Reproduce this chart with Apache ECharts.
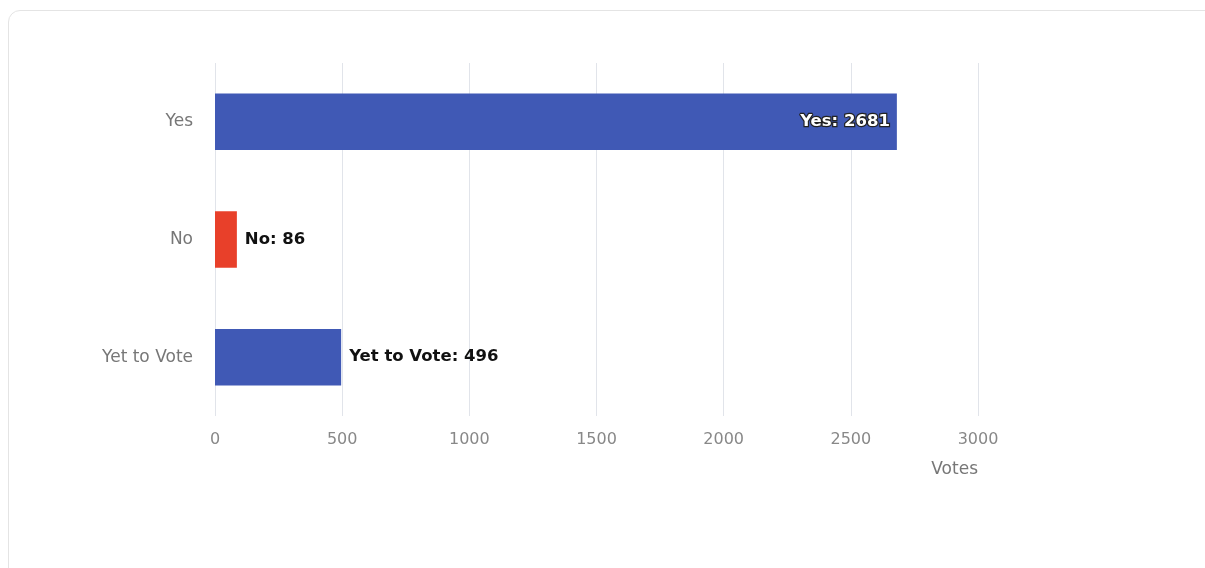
<!DOCTYPE html>
<html><head><meta charset="utf-8">
<script src="https://cdn.jsdelivr.net/npm/echarts@6/dist/echarts.min.js"></script>
<style>
html,body{margin:0;padding:0;width:1205px;height:568px;overflow:hidden;background:#fff;}
#card{position:absolute;left:8px;top:10px;width:1220px;height:600px;border:1px solid #e4e4e4;border-radius:12px;box-sizing:border-box;}
#chart{position:absolute;left:0;top:0;width:1205px;height:568px;}
</style></head>
<body>
<div id="card"></div>
<div id="chart"></div>
<script>
const categories = ['Yes', 'No', 'Yet to Vote'];
const votes = [2681, 86, 496];
const barColors = ['#4059B5', '#E8402A', '#4059B5'];
const axisName = 'Votes';

const chart = echarts.init(document.getElementById('chart'));
const font = 'DejaVu Sans';
chart.setOption({
  animation: false,
  grid: {left: 215, right: 227, top: 63, bottom: 152, containLabel: false},
  xAxis: {
    type: 'value', min: 0, max: 3000, interval: 500,
    name: axisName, nameLocation: 'end', nameGap: 0,
    nameTextStyle: {color: '#777', fontFamily: font, fontSize: 17, align: 'right', verticalAlign: 'top', padding: [45, 0, 0, 0]},
    axisLine: {show: false}, axisTick: {show: false},
    axisLabel: {color: '#888', fontFamily: font, fontSize: 16, margin: 16, formatter: v => String(v)},
    splitLine: {show: true, lineStyle: {color: '#e1e4ea', width: 1}}
  },
  yAxis: {
    type: 'category', data: categories, inverse: true,
    axisLine: {show: false}, axisTick: {show: false},
    axisLabel: {color: '#777', fontFamily: font, fontSize: 17, margin: 22},
    splitLine: {show: false}
  },
  series: [{
    type: 'bar', barWidth: '48%',
    data: votes.map((v, i) => ({
      value: v,
      itemStyle: {color: barColors[i]},
      label: i === 0 ? {
        show: true, position: 'insideRight', distance: 7,
        color: '#fff', textBorderColor: '#222', textBorderWidth: 2.5
      } : {show: true, position: 'right', distance: 8, color: '#111'}
    })),
    label: {show: true, formatter: '{b}: {c}', fontFamily: font, fontSize: 16.5, fontWeight: 'bold'}
  }]
});
</script>
</body></html>
